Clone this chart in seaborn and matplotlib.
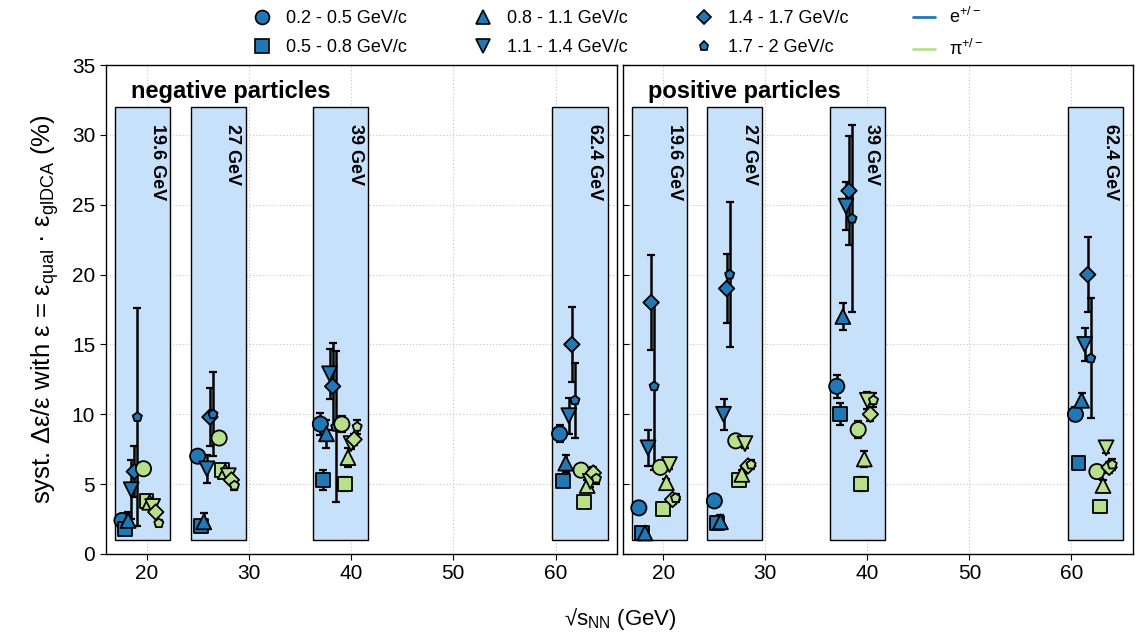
import numpy as np
import pandas as pd
import matplotlib
matplotlib.use("Agg")
import matplotlib.pyplot as plt
from matplotlib.lines import Line2D
from matplotlib.patches import Rectangle
import seaborn as sns

# ---------------- data ----------------
energies = [19.6, 27, 39, 62.4]
energy_labels = ["19.6 GeV", "27 GeV", "39 GeV", "62.4 GeV"]
bins = ["0.2 - 0.5 GeV/c", "0.5 - 0.8 GeV/c", "0.8 - 1.1 GeV/c",
        "1.1 - 1.4 GeV/c", "1.4 - 1.7 GeV/c", "1.7 - 2 GeV/c"]
species = ["e", "pi"]

# negative particles: rows = energies, columns = pT bins
neg_e = [[2.4, 1.8, 2.4, 4.6, 5.9, 9.8],
         [7.0, 2.0, 2.3, 6.1, 9.8, 10.0],
         [9.3, 5.3, 8.6, 12.9, 12.0, 9.1],
         [8.6, 5.2, 6.5, 9.9, 15.0, 11.0]]
neg_e_err = [[0.2, 0.2, 0.6, 2.1, 1.85, 7.8],
             [0.3, 0.3, 0.6, 1.0, 2.1, 3.0],
             [0.8, 0.7, 1.0, 1.8, 3.1, 5.4],
             [0.6, 0.4, 0.6, 1.3, 2.7, 2.7]]
neg_pi = [[6.1, 3.8, 3.7, 3.4, 3.0, 2.2],
          [8.3, 6.0, 5.9, 5.6, 5.3, 4.9],
          [9.3, 5.0, 6.9, 7.9, 8.2, 9.1],
          [6.0, 3.7, 4.9, 5.2, 5.8, 5.4]]
neg_pi_err = [[0.4, 0.3, 0.3, 0.3, 0.2, 0.2],
              [0.3, 0.3, 0.3, 0.3, 0.3, 0.3],
              [0.6, 0.5, 0.7, 0.4, 0.4, 0.5],
              [0.4, 0.3, 0.4, 0.4, 0.4, 0.4]]

# positive particles
pos_e = [[3.3, 1.5, 1.5, 7.6, 18.0, 12.0],
         [3.8, 2.2, 2.3, 10.0, 19.0, 20.0],
         [12.0, 10.0, 17.0, 24.9, 26.0, 24.0],
         [10.0, 6.5, 11.0, 15.0, 20.0, 14.0]]
pos_e_err = [[0.3, 0.1, 0.1, 1.3, 3.4, 6.0],
             [0.3, 0.3, 0.5, 1.1, 2.5, 5.2],
             [0.8, 0.8, 1.0, 1.7, 3.9, 6.7],
             [0.5, 0.4, 0.5, 1.2, 2.7, 4.3]]
pos_pi = [[6.2, 3.2, 5.1, 6.4, 3.9, 4.0],
          [8.1, 5.3, 5.7, 7.9, 6.3, 6.4],
          [8.9, 5.0, 6.8, 11.0, 10.0, 11.0],
          [5.9, 3.4, 4.9, 7.6, 6.2, 6.4]]
pos_pi_err = [[0.3, 0.2, 0.3, 0.3, 0.3, 0.3],
              [0.3, 0.3, 0.3, 0.3, 0.3, 0.3],
              [0.6, 0.5, 0.6, 0.6, 0.5, 0.5],
              [0.4, 0.3, 0.4, 0.4, 0.4, 0.4]]

# ---------------- styles ----------------
sns.set_style("ticks")
plt.rcParams["font.family"] = ["Liberation Sans", "DejaVu Sans"]
plt.rcParams["mathtext.fontset"] = "custom"
plt.rcParams["mathtext.rm"] = "Liberation Sans"
plt.rcParams["mathtext.it"] = "Liberation Sans:italic"
for key in ["text.color", "axes.labelcolor", "xtick.color", "ytick.color", "axes.edgecolor"]:
    plt.rcParams[key] = "black"

BLUE = "#2178b4"
GREEN = "#b8e08c"
BOX = "#c8e1fa"
palette = {"e": BLUE, "pi": GREEN}
markers = {bins[0]: "o", bins[1]: "s", bins[2]: "^", bins[3]: "v", bins[4]: "D", bins[5]: "p"}
sizes = {bins[0]: 120, bins[1]: 100, bins[2]: 115, bins[3]: 115, bins[4]: 62, bins[5]: 48}


def build_frame(e_vals, e_err, pi_vals, pi_err):
    rows = []
    for k, en in enumerate(energies):
        for j, b in enumerate(bins):
            rows.append(dict(energy=en, species="e", bin=b, idx=j,
                             x=en - 2.0 + 0.3 * j, y=e_vals[k][j], err=e_err[k][j]))
        for j, b in enumerate(bins):
            rows.append(dict(energy=en, species="pi", bin=b, idx=j,
                             x=en + 0.1 + 0.3 * j, y=pi_vals[k][j], err=pi_err[k][j]))
    return pd.DataFrame(rows)


frames = [build_frame(neg_e, neg_e_err, neg_pi, neg_pi_err),
          build_frame(pos_e, pos_e_err, pos_pi, pos_pi_err)]
titles = ["negative particles", "positive particles"]

fig = plt.figure(figsize=(11.36, 6.35), dpi=100)
axes = [fig.add_axes([0.093, 0.1276, 0.450, 0.770]),
        fig.add_axes([0.548, 0.1276, 0.449, 0.770])]

for i, (ax, df) in enumerate(zip(axes, frames)):
    ax.set_xlim(16, 66)
    ax.set_ylim(0, 35)
    ax.set_axisbelow(True)
    ax.grid(True, linestyle=(0, (1, 2)), color="#c4c4c4", linewidth=0.8)
    ax.set_xticks([20, 30, 40, 50, 60])
    ax.set_yticks(np.arange(0, 36, 5))
    for en, lab in zip(energies, energy_labels):
        ax.add_patch(Rectangle((en - 2.7, 1), 5.4, 31, facecolor=BOX,
                               edgecolor="black", linewidth=1.0, zorder=1))
        ax.text(en + 1.45, 30.8, lab, rotation=270, ha="center", va="top",
                fontsize=13, fontweight="bold", zorder=5)
    ax.errorbar(df["x"], df["y"], yerr=df["err"], fmt="none", ecolor="black",
                elinewidth=1.8, capsize=3, capthick=1.6, zorder=2)
    sns.scatterplot(data=df, x="x", y="y", hue="species", style="bin", size="bin",
                    palette=palette, markers=markers, sizes=sizes,
                    hue_order=species, style_order=bins, size_order=bins,
                    edgecolor="black", linewidth=1.3, legend=False, ax=ax, zorder=3)
    ax.set_xlabel("")
    ax.set_ylabel("")
    ax.text(18.5, 33.1, titles[i], fontsize=17, fontweight="bold", va="center", ha="left")
    ax.tick_params(axis="both", labelsize=15, direction="out", length=4)
    for s in ax.spines.values():
        s.set_linewidth(1.0)
        s.set_color("black")
    if i == 1:
        ax.tick_params(axis="y", labelleft=False, direction="in")

axes[0].set_ylabel(r"syst. Δε/ε with ε = ε$_\mathregular{qual}$ · ε$_\mathregular{glDCA}$ (%)",
                   fontsize=18.5, labelpad=8)
fig.text(0.546, 0.025, r"√s$_\mathregular{NN}$ (GeV)", ha="center", va="center", fontsize=16)

handles = [Line2D([], [], linestyle="none", marker=markers[b], markersize=ms,
                  markerfacecolor=BLUE, markeredgecolor="black", markeredgewidth=1.2)
           for b, ms in zip(bins, [10, 10, 10, 10, 7.5, 6.5])]
handles += [Line2D([], [], color=BLUE, lw=2), Line2D([], [], color=GREEN, lw=2)]
labels = bins + [r"e$^{+/-}$", r"π$^{+/-}$"]
fig.legend(handles, labels, ncol=4, loc="center", bbox_to_anchor=(0.543, 0.948),
           frameon=False, fontsize=13, columnspacing=3.6, handlelength=1.2,
           handletextpad=0.75, labelspacing=0.65)

fig.savefig("out.png", dpi=100)
